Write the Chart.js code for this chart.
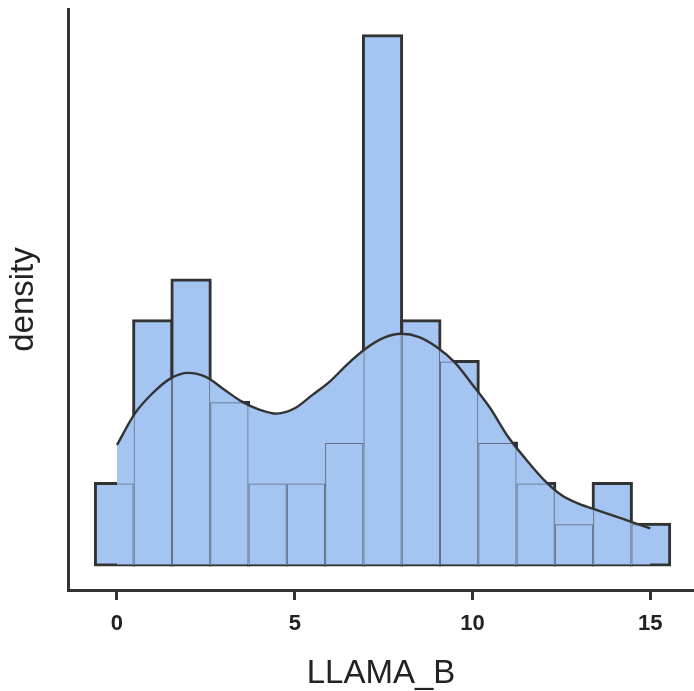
<!DOCTYPE html>
<html>
<head>
<meta charset="utf-8">
<script src="https://cdn.jsdelivr.net/npm/chart.js@4.4.0/dist/chart.umd.min.js"></script>
<style>
  html, body { margin: 0; padding: 0; background: #ffffff; }
  #wrap { width: 694px; height: 691px; }
</style>
</head>
<body>
<div id="wrap"><canvas id="c" width="694" height="691"></canvas></div>
<script>
// Histogram bins (centers) and counts
const binCenters = [-0.070, 1.007, 2.084, 3.161, 4.238, 5.315, 6.392, 7.469, 8.546, 9.623, 10.700, 11.777, 12.854, 13.931, 15.008];
const counts     = [2, 6, 7, 4, 2, 2, 3, 13, 6, 5, 3, 2, 1, 2, 1];
// KDE curve (in count units)
const kdeX = [0, 0.5, 1.0, 1.5, 2.0, 2.5, 3.0, 3.5, 4.0, 4.5, 5.0, 5.5, 6.0, 6.5, 7.0, 7.5, 8.0, 8.5, 9.0, 9.5, 10.0, 10.5, 11.0, 11.5, 12.0, 12.5, 13.0, 13.5, 14.0, 14.5, 15.0];
const kdeY = [2.95, 3.72, 4.22, 4.58, 4.72, 4.62, 4.32, 4.02, 3.82, 3.72, 3.85, 4.18, 4.52, 4.95, 5.32, 5.58, 5.68, 5.60, 5.35, 4.98, 4.43, 3.85, 3.15, 2.60, 2.10, 1.72, 1.50, 1.35, 1.20, 1.05, 0.90];
const xTicks = [0, 5, 10, 15];
const xTitle = 'LLAMA_B';
const yTitle = 'density';

const blue = 'rgb(164,196,241)';
const dark = '#333333';

const histPts = binCenters.map((x, i) => ({ x: x, y: counts[i] }));
const kdePts = kdeX.map((x, i) => ({ x: x, y: kdeY[i] }));

new Chart(document.getElementById('c'), {
  type: 'bar',
  data: {
    datasets: [
      { // thick outline bars (bottom layer)
        type: 'bar', data: histPts, order: 4, grouped: false,
        backgroundColor: blue, borderColor: dark, borderWidth: 3, inflateAmount: 1.5,
        borderSkipped: false, barPercentage: 1, categoryPercentage: 1
      },
      { // KDE fill
        type: 'line', data: kdePts, order: 3, fill: 'origin',
        backgroundColor: blue, borderWidth: 0, pointRadius: 0, cubicInterpolationMode: 'monotone'
      },
      { // thin inner bar edges
        type: 'bar', data: histPts, order: 2, grouped: false,
        backgroundColor: 'rgba(0,0,0,0)', borderColor: 'rgba(51,51,51,0.6)', borderWidth: 1, inflateAmount: 0,
        borderSkipped: false, barPercentage: 1, categoryPercentage: 1
      },
      { // KDE line
        type: 'line', data: kdePts, order: 1, fill: false,
        borderColor: dark, borderWidth: 2.4, pointRadius: 0, cubicInterpolationMode: 'monotone'
      }
    ]
  },
  options: {
    responsive: false,
    animation: false,
    layout: { padding: { top: 9, right: 0, left: 0, bottom: 0 } },
    plugins: { legend: { display: false }, tooltip: { enabled: false } },
    scales: {
      x: {
        type: 'linear', min: -1.378, max: 16.23, offset: false,
        afterBuildTicks: s => { s.ticks = xTicks.map(v => ({ value: v })); },
        afterFit: s => { s.height = 101; },
        grid: { display: true, offset: false, drawOnChartArea: false, drawTicks: true, tickLength: 10, tickWidth: 3, tickColor: dark },
        border: { display: true, width: 3, color: dark },
        ticks: { color: '#222', padding: 11, maxRotation: 0, autoSkip: false,
                 font: { family: 'Liberation Sans, Arial, sans-serif', size: 22, weight: 'bold' } },
        title: { display: true, text: xTitle, color: '#222', padding: { top: 0, bottom: 0 },
                 font: { family: 'Liberation Sans, Arial, sans-serif', size: 33, lineHeight: 1.05 } }
      },
      y: {
        type: 'linear', min: -0.614, max: 13.66,
        afterFit: s => { s.width = 68; },
        grid: { display: false },
        border: { display: true, width: 3, color: dark },
        ticks: { display: false },
        title: { display: true, text: yTitle, color: '#222', padding: { top: 4, bottom: 0 },
                 font: { family: 'Liberation Sans, Arial, sans-serif', size: 33, lineHeight: 1.2 } }
      }
    }
  }
});
</script>
</body>
</html>
